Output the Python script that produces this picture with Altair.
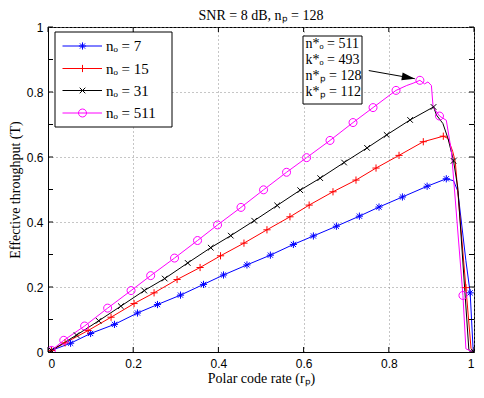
import altair as alt
import pandas as pd

# ---------------- data ----------------
labels = ["nₒ = 7", "nₒ = 15", "nₒ = 31", "nₒ = 511"]
colors = ["#0000ff", "#ff0000", "#000000", "#ff00ff"]

rate_7 = [0.008, 0.053, 0.10, 0.156, 0.210, 0.257, 0.311, 0.365, 0.412, 0.467, 0.522, 0.576, 0.623,
          0.677, 0.731, 0.777, 0.832, 0.89, 0.935, 0.952, 0.962, 0.981, 0.991, 0.998, 1.0]
thr_7 = [0.005, 0.027, 0.057, 0.085, 0.120, 0.146, 0.175, 0.208, 0.237, 0.268, 0.298, 0.331, 0.357,
         0.387, 0.418, 0.446, 0.477, 0.510, 0.533, 0.527, 0.495, 0.281, 0.182, 0.006, 0.0]
mark_7 = [0, 1, 2, 3, 4, 5, 6, 7, 8, 9, 10, 11, 12, 13, 14, 15, 16, 17, 18, 22]

rate_15 = [0.008, 0.04, 0.094, 0.148, 0.202, 0.249, 0.303, 0.357, 0.405, 0.460, 0.514, 0.568, 0.613,
           0.669, 0.723, 0.770, 0.824, 0.881, 0.928, 0.939, 0.950, 0.956, 0.981, 0.993, 1.0]
thr_15 = [0.005, 0.028, 0.066, 0.107, 0.149, 0.182, 0.223, 0.260, 0.296, 0.335, 0.376, 0.416, 0.452,
          0.493, 0.529, 0.566, 0.605, 0.647, 0.664, 0.657, 0.617, 0.586, 0.198, 0.011, 0.0]
mark_15 = [0, 1, 2, 3, 4, 5, 6, 7, 8, 9, 10, 11, 12, 13, 14, 15, 16, 17, 18, 22]

rate_31 = [0.008, 0.067, 0.119, 0.171, 0.226, 0.274, 0.328, 0.382, 0.429, 0.484, 0.538, 0.592, 0.639,
           0.695, 0.749, 0.795, 0.850, 0.905, 0.912, 0.927, 0.939, 0.952, 0.962, 0.988, 1.0]
thr_31 = [0.005, 0.052, 0.096, 0.141, 0.189, 0.226, 0.274, 0.321, 0.358, 0.404, 0.451, 0.498, 0.535,
          0.583, 0.628, 0.668, 0.714, 0.754, 0.729, 0.703, 0.657, 0.588, 0.505, 0.006, 0.0]
mark_31 = [0, 1, 2, 3, 4, 5, 6, 7, 8, 9, 10, 11, 12, 13, 14, 15, 16, 17, 21, 24]

rate_511 = [0.008, 0.037, 0.086, 0.140, 0.195, 0.241, 0.297, 0.351, 0.398, 0.453, 0.506, 0.560, 0.607,
            0.662, 0.716, 0.763, 0.817, 0.842, 0.857, 0.873, 0.884, 0.892, 0.900, 0.904, 0.919, 0.935,
            0.947, 0.974, 0.981, 0.997, 1.0]
thr_511 = [0.005, 0.036, 0.080, 0.135, 0.189, 0.235, 0.289, 0.343, 0.391, 0.445, 0.499, 0.553, 0.598,
           0.651, 0.706, 0.752, 0.805, 0.820, 0.827, 0.836, 0.825, 0.831, 0.820, 0.754, 0.726, 0.713,
           0.617, 0.174, 0.010, 0.0, 0.0]
mark_511 = [0, 1, 2, 3, 4, 5, 6, 7, 8, 9, 10, 11, 12, 13, 14, 15, 16, 19, 24, 27]

x_ticks = [0, 0.2, 0.4, 0.6, 0.8, 1]
y_ticks = [0, 0.1, 0.2, 0.3, 0.4, 0.5, 0.6, 0.7, 0.8, 0.9, 1]

annot_lines = ["n*ₒ = 511", "k*ₒ = 493", "n*ₚ = 128", "k*ₚ = 112"]
arrow_from = (0.753, 0.866)
arrow_to = (0.861, 0.841)

# ---------------- build tables ----------------
all_series = [(rate_7, thr_7, mark_7), (rate_15, thr_15, mark_15),
              (rate_31, thr_31, mark_31), (rate_511, thr_511, mark_511)]
line_rows, mark_rows = [], []
for lab, (rr, tt, mm) in zip(labels, all_series):
    for i, (a, b) in enumerate(zip(rr, tt)):
        line_rows.append({"series": lab, "r": a, "t": b})
        if i in mm:
            mark_rows.append({"series": lab, "r": a, "t": b})
line_df = pd.DataFrame(line_rows)
mark_df = pd.DataFrame(mark_rows)

W, H = 426, 325
SERIF = "Liberation Serif"
SANS = "Liberation Sans"

star = "M-0.9,0L0.9,0M0,-0.9L0,0.9M-0.65,-0.65L0.65,0.65M-0.65,0.65L0.65,-0.65"
plus = "M-0.9,0L0.9,0M0,-0.9L0,0.9"
xmark = "M-0.7,-0.7L0.7,0.7M-0.7,0.7L0.7,-0.7"
circ = "M1,0A1,1 0 1,1 -1,0A1,1 0 1,1 1,0"
shapes = [star, plus, xmark, circ]

xs = alt.Scale(domain=[0, 1], nice=False, zero=False)
ys = alt.Scale(domain=[0, 1], nice=False, zero=False)
grid_kw = dict(grid=True, gridDash=[1, 3], gridColor="#8c8c8c", gridWidth=1, tickSize=0,
               labelFont=SANS, labelFontSize=12, labelColor="black", domainColor="black",
               titleFont=SERIF, titleFontSize=14, titleFontWeight="normal", titleColor="black",
               format="~g")
x_axis = alt.Axis(values=x_ticks, title="Polar code rate (rₚ)", labelPadding=6, titlePadding=2, **grid_kw)
y_axis = alt.Axis(values=y_ticks, title="Effective throughput (T)", labelPadding=5, titlePadding=4, **grid_kw)

color = alt.Color("series:N", scale=alt.Scale(domain=labels, range=colors), legend=None)

lines = alt.Chart(line_df).mark_line(strokeWidth=1, clip=True).encode(
    x=alt.X("r:Q", scale=xs, axis=x_axis),
    y=alt.Y("t:Q", scale=ys, axis=y_axis),
    color=color,
)
points = alt.Chart(mark_df).mark_point(filled=False, size=64, strokeWidth=1, opacity=1, clip=True).encode(
    x=alt.X("r:Q", scale=xs),
    y=alt.Y("t:Q", scale=ys),
    color=color,
    shape=alt.Shape("series:N", scale=alt.Scale(domain=labels, range=shapes), legend=None),
)

# inward ticks (MATLAB style)
xt = pd.DataFrame({"v": x_ticks})
yt = pd.DataFrame({"v": y_ticks})
tk = dict(color="black", strokeWidth=1)
ticks = [
    alt.Chart(xt).mark_rule(**tk).encode(x=alt.X("v:Q", scale=xs), y=alt.value(H), y2=alt.value(H - 5)),
    alt.Chart(xt).mark_rule(**tk).encode(x=alt.X("v:Q", scale=xs), y=alt.value(0), y2=alt.value(5)),
    alt.Chart(yt).mark_rule(**tk).encode(y=alt.Y("v:Q", scale=ys), x=alt.value(0), x2=alt.value(5)),
    alt.Chart(yt).mark_rule(**tk).encode(y=alt.Y("v:Q", scale=ys), x=alt.value(W - 5), x2=alt.value(W)),
]

# legend (drawn by hand, MATLAB style)
one = pd.DataFrame({"a": [0]})
legend_layers = [
    alt.Chart(one).mark_rect(fill="white", stroke="black", strokeWidth=1).encode(
        x=alt.value(7), x2=alt.value(124), y=alt.value(5), y2=alt.value(100))
]
leg_y = [19, 41.5, 63.5, 86]
for lab, col, shp, yy in zip(labels, colors, shapes, leg_y):
    legend_layers.append(alt.Chart(one).mark_rule(color=col, strokeWidth=1).encode(
        x=alt.value(14.5), x2=alt.value(54), y=alt.value(yy)))
    legend_layers.append(alt.Chart(one).mark_point(shape=shp, filled=False, size=64, color=col,
                                                   strokeWidth=1, opacity=1).encode(
        x=alt.value(34.5), y=alt.value(yy)))
    legend_layers.append(alt.Chart(pd.DataFrame({"txt": [lab]})).mark_text(
        align="left", baseline="middle", font=SERIF, fontSize=15, color="black").encode(
        x=alt.value(58), y=alt.value(yy), text="txt:N"))

# annotation box and arrow
annot_layers = [
    alt.Chart(one).mark_rect(fill="white", stroke="black", strokeWidth=1).encode(
        x=alt.value(255), x2=alt.value(314), y=alt.value(9), y2=alt.value(77))
]
for txt, yy in zip(annot_lines, [17, 33, 49, 65]):
    annot_layers.append(alt.Chart(pd.DataFrame({"txt": [txt]})).mark_text(
        align="left", baseline="middle", font=SERIF, fontSize=14, color="black").encode(
        x=alt.value(257.5), y=alt.value(yy), text="txt:N"))
arrow_df = pd.DataFrame({"r": [arrow_from[0]], "t": [arrow_from[1]],
                         "r2": [arrow_to[0]], "t2": [arrow_to[1]]})
annot_layers.append(alt.Chart(arrow_df).mark_rule(color="black", strokeWidth=1).encode(
    x=alt.X("r:Q", scale=xs), y=alt.Y("t:Q", scale=ys), x2="r2:Q", y2="t2:Q"))
head_df = pd.DataFrame({"r": [arrow_to[0]], "t": [arrow_to[1]]})
annot_layers.append(alt.Chart(head_df).mark_point(
    shape="M0,0L-2,-0.6L-2,0.6Z", filled=True, color="black", size=169, angle=10, opacity=1).encode(
    x=alt.X("r:Q", scale=xs), y=alt.Y("t:Q", scale=ys)))

chart = alt.layer(lines, points, *ticks, *legend_layers, *annot_layers).properties(
    width=W, height=H,
    title=alt.TitleParams("SNR = 8 dB, nₚ = 128", font=SERIF, fontSize=14, fontWeight="normal",
                          color="black", anchor="middle", offset=-2),
    padding={"left": 40, "top": 19, "right": 2, "bottom": 38},
    autosize=alt.AutoSizeParams(type="none"),
).configure_view(stroke="black", strokeWidth=1)

chart.save("out.html", embed_options={"renderer": "svg", "actions": False})
